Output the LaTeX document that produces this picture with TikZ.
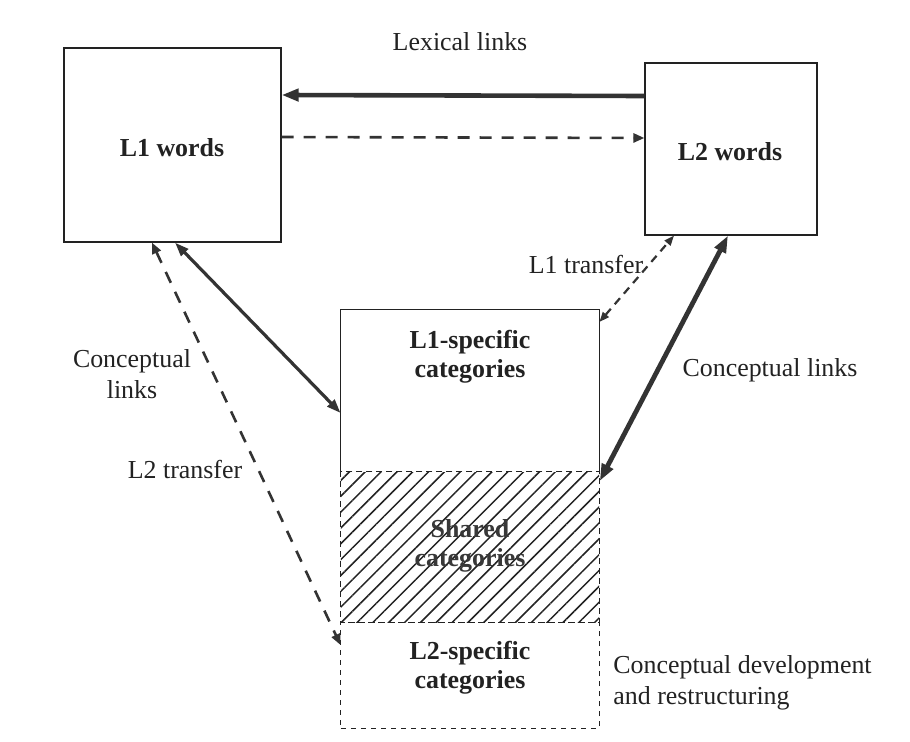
\documentclass[tikz,border=0pt]{standalone}
\usepackage{fontspec}
\setmainfont{Liberation Serif}
\usetikzlibrary{arrows.meta,patterns.meta}
\definecolor{ink}{HTML}{222222}
\definecolor{lin}{HTML}{333333}
\begin{document}
\begin{tikzpicture}[x=0.5bp,y=-0.5bp,
  lbl/.style={text=ink, font=\fontsize{13}{15.5}\selectfont, inner sep=0, align=center},
  blbl/.style={text=ink, font=\fontsize{13}{14.5}\selectfont\bfseries, inner sep=0, align=center},
  box/.style={draw=ink, line width=0.6bp, inner sep=0},
  dbox/.style={draw=ink, line width=0.5bp, dash pattern=on 3bp off 2bp, inner sep=0},
  bigarrow/.style={draw=lin, line width=2.4bp, {Triangle[length=8.5bp,width=6bp]}-{Triangle[length=8.5bp,width=6bp]}},
  midarrow/.style={draw=lin, line width=1.6bp, {Triangle[length=7bp,width=4.8bp]}-{Triangle[length=7bp,width=4.8bp]}},
  dasharrow/.style={draw=lin, line width=1.3bp, dash pattern=on 6bp off 5bp, -{Triangle[length=5.5bp,width=4.5bp]}},
  fdasharrow/.style={draw=lin, line width=1.1bp, dash pattern=on 4bp off 3bp, {Triangle[length=5bp,width=3.8bp]}-{Triangle[length=5bp,width=3.8bp]}}
]
\useasboundingbox[fill=white] (0,0) rectangle (910,742);

% word boxes
\node[box, minimum width=108.5bp, minimum height=97bp] (l1) at (172.5,145) {};
\node[blbl] (l1t) at (172,148) {L1 words};
\node[box, minimum width=86bp, minimum height=86bp] (l2) at (731,149) {};
\node[blbl] (l2t) at (730,152) {L2 words};

% category column
\node[inner sep=0, minimum width=129bp, minimum height=75bp,
      pattern={Lines[angle=45,distance=5.6bp,line width=0.75bp]}, pattern color=ink] (sh) at (470,547) {};
\draw[dbox] (sh.north west) rectangle (sh.south east);
\node[inner sep=0, minimum width=129bp, minimum height=81bp] (l1s) at (470,391) {};
\draw[draw=ink, line width=0.6bp] (l1s.south west) -- (l1s.north west) -- (l1s.north east) -- (l1s.south east);
\node[dbox, dash pattern=on 2.5bp off 2.5bp, minimum width=129bp, minimum height=53bp] (l2s) at (470,675) {};

\node[blbl] (l1st) at (470,357) {L1-specific\\categories};
\node[blbl, text=ink!90] (sht) at (470,546) {Shared\\categories};
\node[blbl] (l2st) at (470,668) {L2-specific\\categories};

% connectors
\draw[draw=lin, line width=2.3bp, -{Triangle[length=8.5bp,width=6bp]}] (l2.west |- 0,96) -- (l1.east |- 0,95);
\draw[dasharrow] (l1.east |- 0,137) -- (l2.west |- 0,138);
\draw[midarrow] (175,0 |- l1.south) -- (l1s.west |- 0,413);
\draw[draw=lin, line width=1.3bp, dash pattern=on 6bp off 5bp, {Triangle[length=5.5bp,width=4.5bp]}-{Triangle[length=5.5bp,width=4.5bp]}] (152,0 |- l1.south) -- (l2s.west |- 0,645);
\draw[fdasharrow] (l1s.east |- 0,322) -- (674,0 |- l2.south);
\draw[bigarrow] (728,0 |- l2.south) -- (sh.east |- 0,481);

% labels
\node[lbl] (lex) at (460,42) {Lexical links};
\node[lbl] (l1tr) at (586,265) {L1 transfer};
\node[lbl] (cr) at (770,370) {Conceptual links};
\node[lbl] (cl) at (132,374) {Conceptual\\links};
\node[lbl] (l2tr) at (185,470) {L2 transfer};
\node[lbl, align=left, anchor=west] (cd) at (613,683) {Conceptual development\\and restructuring};
\end{tikzpicture}
\end{document}
